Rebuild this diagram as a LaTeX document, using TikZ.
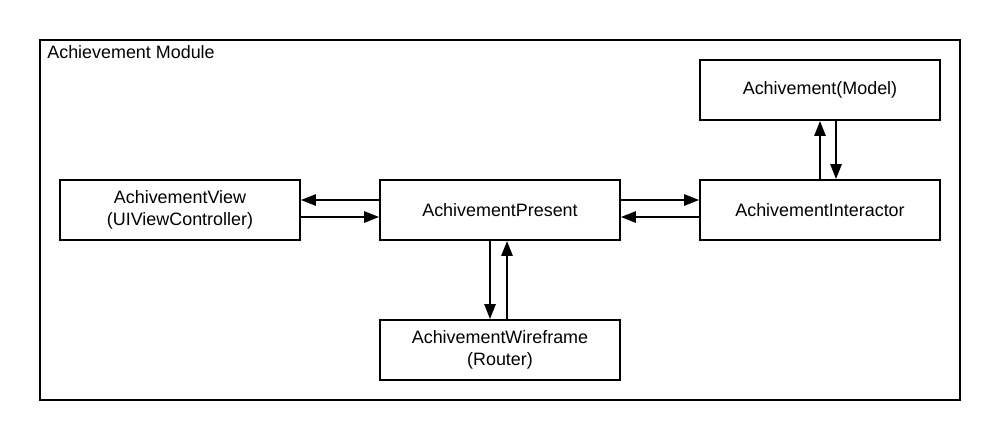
\documentclass[tikz,border=0pt]{standalone}
\usepackage{fontspec}
\setmainfont{Liberation Sans}
\usetikzlibrary{positioning,arrows.meta}

\begin{document}
\begin{tikzpicture}[x=0.02cm,y=-0.02cm,
  % Node Styles
  vbox/.style={rectangle, draw, line width=1.1pt, fill=white, minimum height=1.2cm, minimum width=4.8cm, align=center, inner sep=0pt, font=\fontsize{10.2}{12.4}\selectfont},
  modbox/.style={rectangle, draw, line width=1.1pt, inner sep=0pt},
  % Arrow Styles
  solidarrow/.style={-{Triangle[length=8.5pt,width=6.4pt]}, line width=1.1pt},
]

\useasboundingbox (0,0) rectangle (1000,440);

% VIPER diagram: Achievement module
\node[modbox, minimum width=18.4cm, minimum height=7.2cm] (Module) at (500,220) {};
\node[anchor=north west, inner sep=0pt, font=\fontsize{10.2}{12.4}\selectfont] (ModuleLabel) at (47,45) {Achievement Module};

\node[vbox] (View) at (180,210) {AchivementView\\(UIViewController)};
\node[vbox] (Present) at (500,210) {AchivementPresent};
\node[vbox] (Interactor) at (820,210) {AchivementInteractor};
\node[vbox] (Model) at (820,90) {Achivement(Model)};
\node[vbox] (Wireframe) at (500,350) {AchivementWireframe\\(Router)};

\draw[solidarrow] (Present.west |- 0,200) -- (View.east |- 0,200);
\draw[solidarrow] (View.east |- 0,217) -- (Present.west |- 0,217);
\draw[solidarrow] (Present.east |- 0,200) -- (Interactor.west |- 0,200);
\draw[solidarrow] (Interactor.west |- 0,217) -- (Present.east |- 0,217);
\draw[solidarrow] (Interactor.north -| 820,0) -- (Model.south -| 820,0);
\draw[solidarrow] (Model.south -| 836,0) -- (Interactor.north -| 836,0);
\draw[solidarrow] (Present.south -| 490,0) -- (Wireframe.north -| 490,0);
\draw[solidarrow] (Wireframe.north -| 507,0) -- (Present.south -| 507,0);

\end{tikzpicture}
\end{document}
